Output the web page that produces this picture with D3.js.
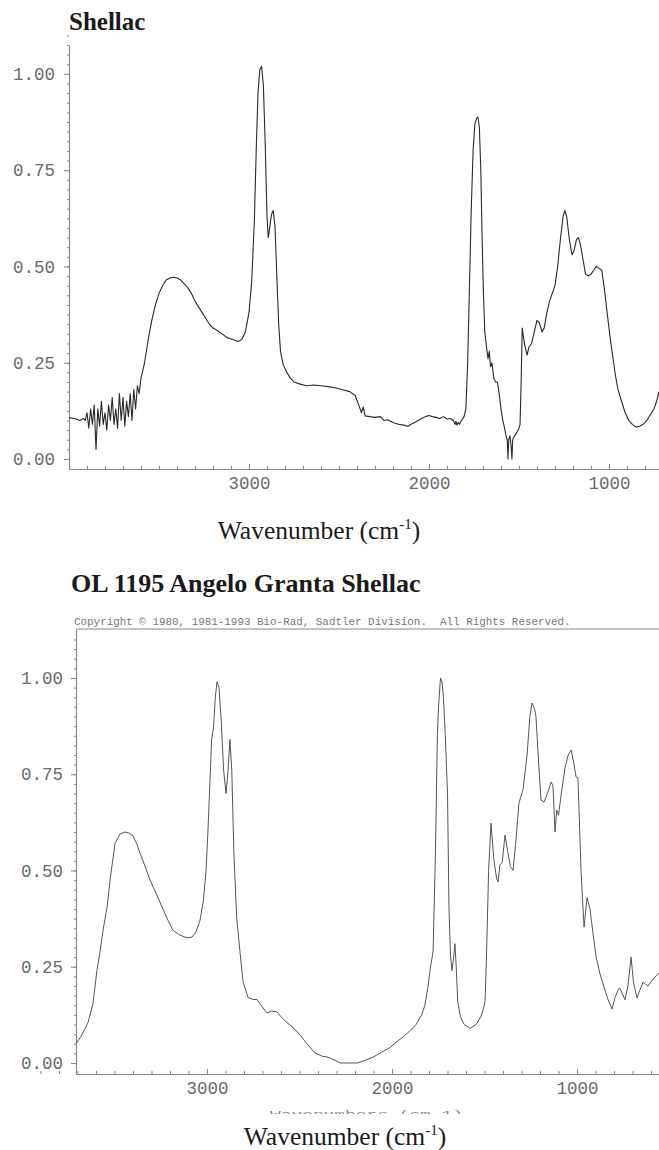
<!DOCTYPE html>
<html>
<head>
<meta charset="utf-8">
<script src="https://cdn.jsdelivr.net/npm/d3@7"></script>
<style>
  body { margin: 0; background: #fff; }
  svg { display: block; }
  .tick text { font-family: "Liberation Mono", "DejaVu Sans Mono", monospace; font-size: 17.5px; fill: #6a6a6a; }
  .domain, .tick line { stroke: #8a8a8a; }
</style>
</head>
<body>
<svg id="chart" width="659" height="1150"></svg>
<script>
// ---- data ----
// top panel: measured shellac sample
const shellacWn = [4000, 3980, 3960, 3940, 3920, 3910, 3900, 3890, 3880, 3870, 3860, 3850, 3840, 3830, 3820, 3810, 3800, 3790, 3780, 3770, 3760, 3750, 3740, 3730, 3720, 3710, 3700, 3690, 3680, 3670, 3660, 3650, 3640, 3630, 3620, 3610, 3600,
  3580, 3560, 3540, 3520, 3500, 3480, 3460, 3440, 3420, 3400, 3380, 3360, 3340, 3320, 3300, 3280, 3260, 3240, 3220, 3200, 3180, 3150, 3120, 3090, 3060, 3040, 3020, 3000,
  2985, 2970, 2960, 2950, 2940, 2930, 2920, 2910, 2900, 2893, 2885, 2875, 2865, 2855, 2845, 2835, 2825, 2810, 2790, 2770, 2750, 2720, 2680, 2640, 2600, 2560, 2520, 2480, 2440,
  2410, 2390, 2375, 2365, 2355, 2330, 2300, 2270, 2250, 2230, 2200, 2170, 2140, 2117, 2100, 2080, 2060, 2040, 2020, 2000, 1980, 1960, 1940, 1920, 1900, 1880, 1865, 1855, 1850,
  1845, 1838, 1830, 1820, 1805, 1795, 1785, 1775, 1765, 1755, 1745, 1735, 1728, 1720, 1712, 1705, 1698, 1690, 1680, 1672, 1665, 1658, 1650, 1640, 1630, 1620, 1610, 1600, 1590,
  1580, 1572, 1565, 1561, 1557, 1550, 1545, 1539, 1535, 1525, 1510, 1500, 1494, 1488, 1482, 1470, 1460, 1455, 1445, 1430, 1415, 1400, 1388, 1372, 1360, 1345, 1330, 1315, 1300,
  1285, 1270, 1255, 1245, 1235, 1220, 1205, 1195, 1180, 1170, 1160, 1145, 1130, 1115, 1100, 1085, 1070, 1055, 1040, 1025, 1010, 995, 980, 965, 950, 930, 910, 890, 870, 850,
  830, 810, 790, 770, 750, 735, 722]
const shellacAbs = [0.107, 0.106, 0.104, 0.100, 0.105, 0.100, 0.120, 0.080, 0.130, 0.090, 0.140, 0.025, 0.130, 0.085, 0.150, 0.090, 0.120, 0.075, 0.140, 0.100, 0.160, 0.090, 0.130, 0.080, 0.170, 0.100, 0.160, 0.085, 0.150, 0.110, 0.170, 0.100, 0.180, 0.130, 0.190, 0.170, 0.210,
  0.250, 0.310, 0.360, 0.400, 0.430, 0.450, 0.465, 0.470, 0.472, 0.470, 0.465, 0.455, 0.445, 0.430, 0.410, 0.395, 0.380, 0.365, 0.350, 0.340, 0.335, 0.325, 0.315, 0.310, 0.305, 0.310, 0.330, 0.380,
  0.460, 0.620, 0.800, 0.950, 1.010, 1.020, 0.970, 0.820, 0.630, 0.575, 0.600, 0.635, 0.645, 0.600, 0.470, 0.350, 0.280, 0.245, 0.225, 0.210, 0.200, 0.195, 0.190, 0.192, 0.190, 0.188, 0.185, 0.180, 0.175,
  0.165, 0.140, 0.120, 0.135, 0.112, 0.110, 0.108, 0.110, 0.100, 0.102, 0.095, 0.090, 0.088, 0.085, 0.090, 0.095, 0.100, 0.105, 0.110, 0.113, 0.110, 0.108, 0.105, 0.110, 0.104, 0.105, 0.100, 0.090, 0.098,
  0.088, 0.095, 0.090, 0.100, 0.110, 0.130, 0.250, 0.450, 0.650, 0.800, 0.870, 0.885, 0.888, 0.860, 0.750, 0.580, 0.440, 0.330, 0.290, 0.260, 0.280, 0.240, 0.250, 0.210, 0.200, 0.200, 0.170, 0.130, 0.100,
  0.080, 0.060, 0.050, 0.000, 0.050, 0.060, 0.040, 0.000, 0.050, 0.060, 0.070, 0.080, 0.090, 0.200, 0.340, 0.300, 0.280, 0.270, 0.290, 0.300, 0.330, 0.360, 0.355, 0.330, 0.340, 0.380, 0.410, 0.430, 0.450,
  0.500, 0.570, 0.630, 0.645, 0.630, 0.570, 0.530, 0.540, 0.570, 0.575, 0.560, 0.520, 0.480, 0.475, 0.480, 0.490, 0.500, 0.495, 0.490, 0.440, 0.380, 0.320, 0.270, 0.220, 0.180, 0.150, 0.120, 0.100, 0.090, 0.083,
  0.085, 0.090, 0.100, 0.115, 0.130, 0.150, 0.175]

// bottom panel: library reference spectrum
const refWn = [3708, 3680, 3643, 3616, 3595, 3578, 3560, 3540, 3520, 3497, 3470, 3443, 3420, 3400, 3380, 3362, 3330, 3308, 3270, 3238, 3210, 3184, 3150, 3108, 3081, 3060, 3038, 3020, 3005,
  2995, 2985, 2975, 2965, 2955, 2946, 2935, 2922, 2910, 2897, 2886, 2876, 2866, 2855, 2840, 2822, 2805, 2778, 2750, 2730, 2700, 2676, 2650, 2622, 2600, 2568, 2530, 2497, 2460, 2416,
  2380, 2346, 2300, 2281, 2230, 2184, 2140, 2103, 2060, 2011, 1970, 1941, 1900, 1870, 1840, 1822, 1805, 1795, 1778, 1765, 1755, 1748, 1738, 1730, 1722, 1712, 1700, 1692, 1684, 1676,
  1668, 1660, 1653, 1645, 1630, 1610, 1578, 1545, 1520, 1508, 1497, 1488, 1478, 1465, 1450, 1435, 1427, 1417, 1405, 1389, 1375, 1360, 1346, 1330, 1314, 1292, 1270, 1255, 1243, 1230,
  1222, 1210, 1195, 1178, 1160, 1140, 1130, 1119, 1110, 1100, 1085, 1065, 1048, 1032, 1018, 1005, 995, 978, 962, 946, 930, 912, 897, 875, 854, 832, 811, 795, 778, 770, 755, 741, 725,
  708, 695, 676, 660, 643, 630, 616, 595, 578, 557]
const refAbs = [0.050, 0.070, 0.105, 0.155, 0.240, 0.290, 0.350, 0.405, 0.490, 0.570, 0.595, 0.600, 0.597, 0.590, 0.570, 0.545, 0.505, 0.475, 0.435, 0.400, 0.370, 0.345, 0.333, 0.325, 0.327, 0.340, 0.370, 0.420, 0.500,
  0.600, 0.720, 0.840, 0.870, 0.950, 0.990, 0.975, 0.880, 0.760, 0.700, 0.760, 0.840, 0.760, 0.550, 0.380, 0.290, 0.210, 0.170, 0.165, 0.165, 0.145, 0.130, 0.135, 0.133, 0.120, 0.105, 0.090, 0.073, 0.050, 0.026,
  0.018, 0.015, 0.005, 0.000, 0.000, 0.000, 0.008, 0.015, 0.027, 0.040, 0.057, 0.067, 0.085, 0.100, 0.125, 0.150, 0.200, 0.240, 0.290, 0.550, 0.850, 0.930, 1.000, 0.990, 0.950, 0.850, 0.700, 0.400, 0.280, 0.240,
  0.270, 0.310, 0.250, 0.160, 0.120, 0.100, 0.090, 0.100, 0.120, 0.137, 0.160, 0.300, 0.500, 0.623, 0.530, 0.480, 0.470, 0.514, 0.520, 0.592, 0.550, 0.510, 0.500, 0.580, 0.675, 0.710, 0.800, 0.900, 0.935, 0.920,
  0.900, 0.800, 0.683, 0.678, 0.700, 0.730, 0.720, 0.600, 0.657, 0.644, 0.700, 0.766, 0.800, 0.813, 0.780, 0.743, 0.740, 0.494, 0.353, 0.430, 0.400, 0.330, 0.275, 0.230, 0.197, 0.164, 0.140, 0.170, 0.190, 0.195, 0.180, 0.164, 0.200,
  0.275, 0.210, 0.169, 0.190, 0.210, 0.205, 0.200, 0.215, 0.223, 0.234]

const yTicks = [0, 0.25, 0.5, 0.75, 1]
const xTicks = [3000, 2000, 1000]
const titleTop = "Shellac"
const titleBottom = "OL 1195 Angelo Granta Shellac"
const copyrightLine = "Copyright \u00a9 1980, 1981-1993 Bio-Rad, Sadtler Division.\u00a0 All Rights Reserved."

const svg = d3.select('#chart')

// one spectrum panel
function panel(opt) {
  const x = d3.scaleLinear().domain(opt.xDomain).range([opt.left, 659])
  const y = d3.scaleLinear().domain(opt.yDomain).range([opt.bottom, opt.top])
  const g = svg.append('g')

  // minor ticks first, drawn by d3 axes with no labels
  g.append('g')
    .attr('transform', `translate(0,${opt.bottom})`)
    .call(d3.axisBottom(x).tickValues(d3.range(3900, 500, -100)).tickSize(-3).tickFormat(''))
    .call(a => a.select('.domain').remove())
  g.append('g')
    .attr('transform', `translate(${opt.left},0)`)
    .call(d3.axisLeft(y).tickValues(d3.range(0, 1.11, 0.025)).tickSize(2).tickFormat(''))
    .call(a => a.select('.domain').remove())

  // major axes
  g.append('g')
    .attr('transform', `translate(0,${opt.bottom})`)
    .call(d3.axisBottom(x).tickValues(xTicks).tickSizeInner(-5).tickSizeOuter(0).tickPadding(8).tickFormat(d3.format('d')))
  g.append('g')
    .attr('transform', `translate(${opt.left},0)`)
    .call(d3.axisLeft(y).tickValues(yTicks).tickSizeInner(5).tickSizeOuter(0).tickPadding(opt.labelPad).tickFormat(d3.format('.2f')))

  g.selectAll('.domain').attr('stroke-width', 1.2)

  if (opt.frame) {
    g.append('line')
      .attr('x1', opt.left).attr('x2', 659)
      .attr('y1', opt.top).attr('y2', opt.top)
      .attr('stroke', '#8a8a8a').attr('stroke-width', 1.2)
  }

  const pts = opt.wn.map((w, i) => [w, opt.abs[i]])
  g.append('path')
    .datum(pts)
    .attr('fill', 'none')
    .attr('stroke', opt.color)
    .attr('stroke-width', opt.lw)
    .attr('stroke-linejoin', 'round')
    .attr('d', d3.line().x(d => x(d[0])).y(d => y(d[1])))

  // serif title above the panel
  svg.append('text')
    .attr('x', opt.titleX).attr('y', opt.titleY)
    .attr('font-family', '"Liberation Serif", "Times New Roman", serif')
    .attr('font-weight', 'bold')
    .attr('font-size', opt.titleSize)
    .attr('fill', '#1a1a1a')
    .text(opt.title)

  // axis caption
  const cap = svg.append('text')
    .attr('x', opt.capX).attr('y', opt.capY)
    .attr('text-anchor', 'middle')
    .attr('font-family', '"Liberation Serif", "Times New Roman", serif')
    .attr('font-size', 25.5)
    .attr('fill', '#1a1a1a')
  cap.append('tspan').text('Wavenumber (cm')
  cap.append('tspan').attr('font-size', 15).attr('dy', -10).text('-1')
  cap.append('tspan').attr('dy', 10).text(')')
  return g
}

panel({
  wn: shellacWn, abs: shellacAbs,
  xDomain: [4000, 722], yDomain: [-0.026, 1.075],
  left: 69, top: 45, bottom: 469, labelPad: 9,
  color: '#2a2a2a', lw: 1.1,
  title: titleTop, titleX: 69, titleY: 30, titleSize: 25,
  capX: 319, capY: 539
})

panel({
  wn: refWn, abs: refAbs,
  xDomain: [3708, 557], yDomain: [-0.0286, 1.1273],
  left: 76, top: 629, bottom: 1074, labelPad: 8,
  color: '#555', lw: 1,
  title: titleBottom, titleX: 71, titleY: 592, titleSize: 26,
  capX: 345, capY: 1145, frame: true
})

// copyright line of the library print
svg.append('text')
  .attr('x', 74).attr('y', 625)
  .attr('font-family', '"Liberation Mono", monospace')
  .attr('font-size', 10.9)
  .attr('fill', '#777')
  .text(copyrightLine)

// clipped remains of the original printed axis caption
svg.append('clipPath').attr('id', 'cut')
  .append('rect').attr('x', 0).attr('y', 1109).attr('width', 659).attr('height', 5)
svg.append('text')
  .attr('clip-path', 'url(#cut)')
  .attr('x', 270).attr('y', 1117)
  .attr('textLength', 193)
  .attr('lengthAdjust', 'spacingAndGlyphs')
  .attr('font-family', '"Liberation Mono", monospace')
  .attr('font-size', 9)
  .attr('fill', '#888')
  .text('Wavenumbers (cm-1)')
</script>
</body>
</html>
